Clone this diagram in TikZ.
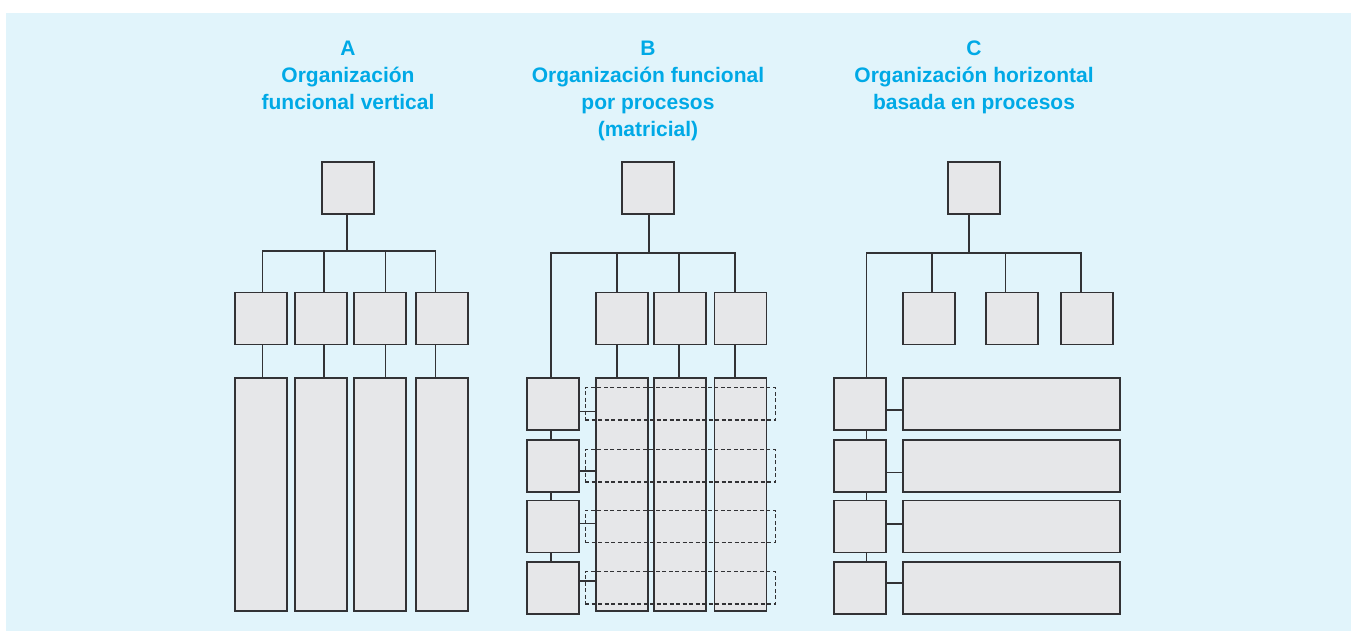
\documentclass[tikz,border=0pt]{standalone}
\usepackage{fontspec}
\setmainfont{Liberation Sans}
\usetikzlibrary{calc,positioning}
\definecolor{bgblue}{RGB}{225,244,251}
\definecolor{titleblue}{RGB}{0,169,230}
\definecolor{boxgray}{RGB}{230,231,233}
\definecolor{linegray}{RGB}{50,50,53}
\tikzset{
	orgbox/.style={draw=linegray, fill=boxgray, line width=1.7pt, inner sep=0pt, minimum width=52pt, minimum height=52pt},
	colbox/.style={orgbox, minimum height=233pt},
	widebox/.style={orgbox, minimum width=217pt},
	procbox/.style={draw=linegray, dash pattern=on 4pt off 2.5pt, line width=1.4pt, inner sep=0pt, minimum width=190pt, minimum height=32.5pt},
	titletext/.style={text=titleblue, font=\fontsize{21}{27}\selectfont\bfseries, align=center, anchor=north, inner sep=0pt},
	wire/.style={draw=linegray, line width=1.6pt},
}

\begin{document}
\begin{tikzpicture}[x=1pt, y=-1pt]
	\useasboundingbox (0,0) rectangle (1355,631);
	\fill[bgblue] (6,13) rectangle (1351,631);

	% A
	\node[titletext] (ta) at (348,41) {A\\Organización\\funcional vertical};
	\node[orgbox] (atop) at (348,188) {};
	\foreach \i/\x in {1/261,2/321,3/380,4/442} {
		\node[orgbox] (a\i) at (\x,318.5) {};
		\node[colbox] (ac\i) at (\x,494.7) {};
	}
	\coordinate (abus) at (346.7,251);
	\draw[wire] ($(atop.south)+(-1.3,0)$) -- (abus);
	\foreach \i/\d in {1/1.5,2/2.8,3/5.3,4/-6.7} {
		\draw[wire] ($(a\i.north)+(\d,0)$) |- (abus);
		\draw[wire] ($(a\i.south)+(\d,0)$) -- ($(ac\i.north)+(\d,0)$);
	}

	% B
	\node[titletext] (tb) at (648,41) {B\\Organización funcional\\por procesos\\(matricial)};
	\node[orgbox] (btop) at (647.7,188) {};
	\foreach \i/\x in {1/621.7,2/680.3,3/740.5} {
		\node[orgbox] (b\i) at (\x,318.5) {};
		\node[colbox] (bc\i) at (\x,494.7) {};
	}
	\foreach \i/\y in {1/403.8,2/465.8,3/526.5,4/587.8}
		\node[orgbox] (bp\i) at (553.2,\y) {};
	\coordinate (bbus) at (649,253.3);
	\draw[wire] ($(btop.south)+(1.3,0)$) -- (bbus);
	\draw[wire] ($(bp1.north)+(-2.2,0)$) |- (bbus);
	\foreach \i/\d in {1/-4.7,2/-1.3,3/-5.5} {
		\draw[wire] ($(b\i.north)+(\d,0)$) |- (bbus);
		\draw[wire] ($(b\i.south)+(\d,0)$) -- ($(bc\i.north)+(\d,0)$);
	}
	\foreach \i/\j in {1/2,2/3,3/4}
		\draw[wire] ($(bp\i.south)+(-2.2,0)$) -- ($(bp\j.north)+(-2.2,0)$);
	\foreach \i/\d in {1/7.5,2/4.9,3/-3.2,4/-6.8}
		\draw[wire] ($(bp\i.east)+(0,\d)$) -- ($(bp\i.east -| bc1.west)+(0,\d)$);
	\foreach \i/\y in {1/403.8,2/465.8,3/526.5,4/587.8}
		\node[procbox] (bd\i) at (680.2,\y) {};

	% C
	\node[titletext] (tc) at (974,41) {C\\Organización horizontal\\basada en procesos};
	\node[orgbox] (ctop) at (973.8,188) {};
	\foreach \i/\x in {1/929.3,2/1012,3/1086.7}
		\node[orgbox] (c\i) at (\x,318.5) {};
	\foreach \i/\y in {1/403.8,2/465.8,3/526.5,4/587.8} {
		\node[orgbox] (cp\i) at (859.8,\y) {};
		\node[widebox] (cw\i) at (1011.8,\y) {};
	}
	\coordinate (cbus) at (969,253.3);
	\draw[wire] ($(ctop.south)+(-4.8,0)$) -- (cbus);
	\draw[wire] ($(cp1.north)+(6.5,0)$) |- (cbus);
	\foreach \i/\d in {1/2.7,2/-6.7,3/-5.7}
		\draw[wire] ($(c\i.north)+(\d,0)$) |- (cbus);
	\foreach \i/\j in {1/2,2/3,3/4}
		\draw[wire] ($(cp\i.south)+(6.5,0)$) -- ($(cp\j.north)+(6.5,0)$);
	\foreach \i/\d in {1/5.9,2/6.5,3/-2.8,4/-5.1}
		\draw[wire] ($(cp\i.east)+(0,\d)$) -- ($(cw\i.west)+(0,\d)$);
\end{tikzpicture}
\end{document}
